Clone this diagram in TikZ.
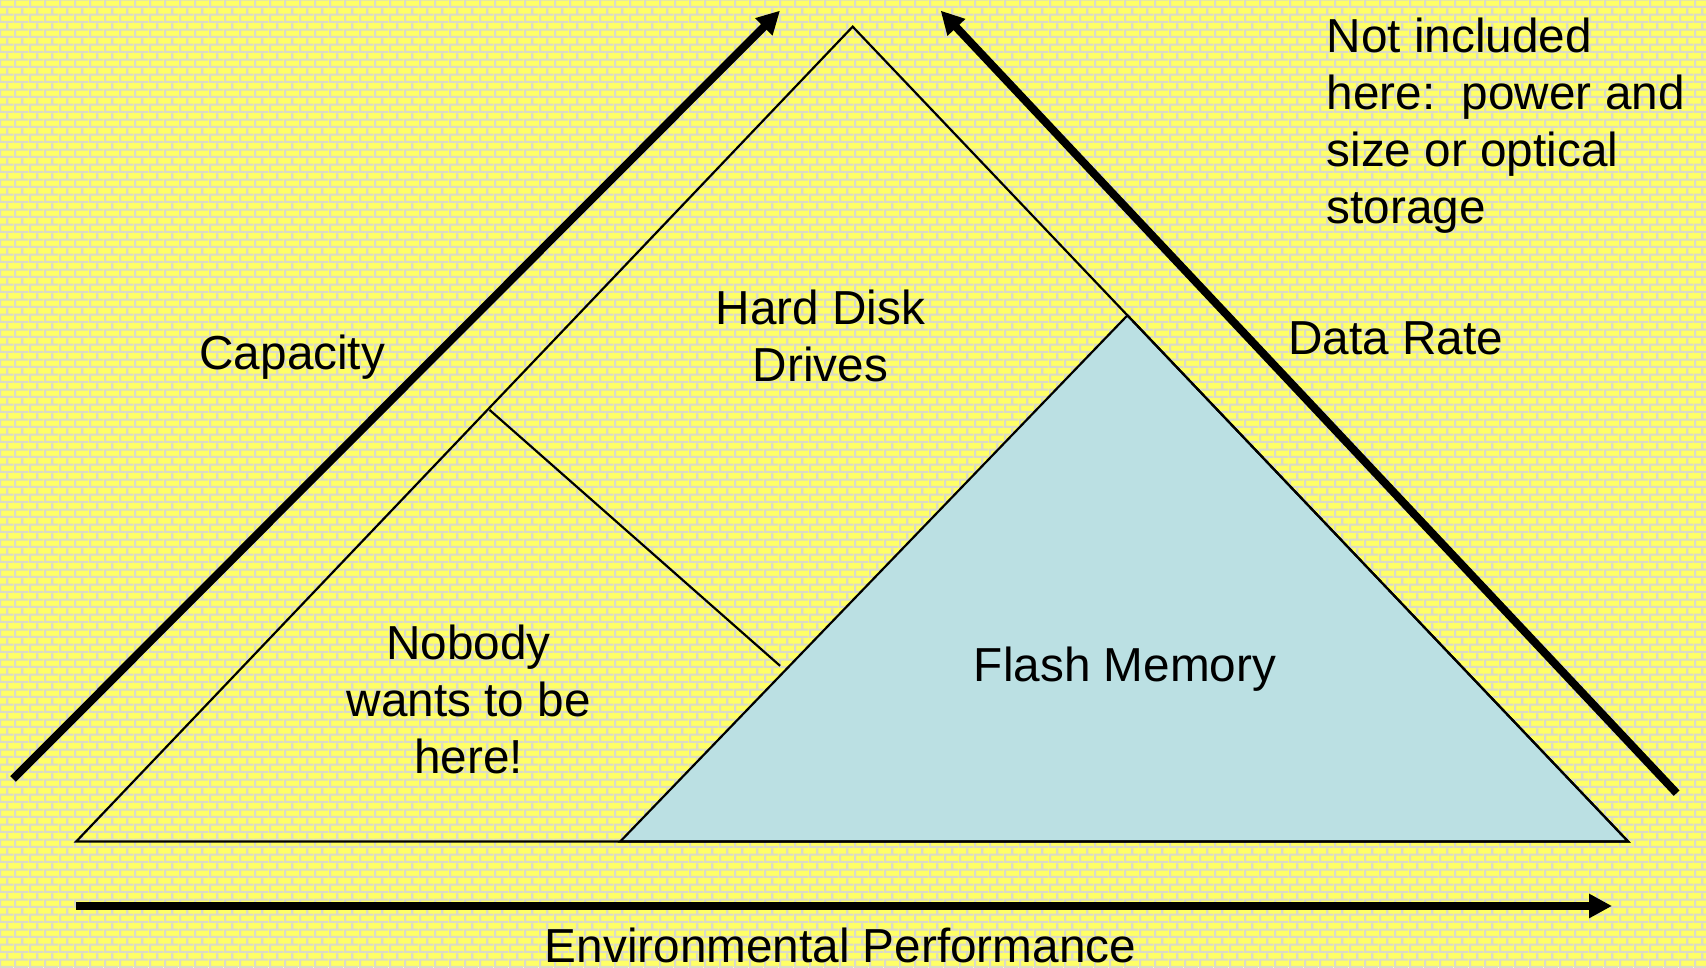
\documentclass[tikz,border=0pt]{standalone}
\usepackage{fontspec}
\setmainfont{Liberation Sans}
\usetikzlibrary{arrows.meta,patterns,calc}
\definecolor{brick}{RGB}{255,255,102}
\definecolor{mortar}{RGB}{218,218,200}
\definecolor{flash}{RGB}{187,224,227}
\pgfdeclarepatternformonly{brickwall}{\pgfpointorigin}{\pgfpoint{7.6pt}{7.67pt}}{\pgfpoint{7.6pt}{7.67pt}}{%
  \pgfpathrectangle{\pgfpoint{0pt}{0pt}}{\pgfpoint{7.6pt}{1.1pt}}%
  \pgfpathrectangle{\pgfpoint{0pt}{3.835pt}}{\pgfpoint{7.6pt}{1.1pt}}%
  \pgfpathrectangle{\pgfpoint{0pt}{1.1pt}}{\pgfpoint{1.1pt}{2.735pt}}%
  \pgfpathrectangle{\pgfpoint{3.8pt}{4.935pt}}{\pgfpoint{1.1pt}{2.735pt}}%
  \pgfusepath{fill}}
\begin{document}
\begin{tikzpicture}[x=0.544pt,y=-0.544pt,
  txt/.style={inner sep=0pt, font=\fontsize{23.85}{28.5}\selectfont, text=black},
  edgeline/.style={line width=1.1pt, draw=black, line join=miter},
  bigarrow/.style={line width=4pt, draw=black, -{Triangle[length=11.5pt,width=11.5pt]}}]
  % background
  \useasboundingbox (0,0) rectangle (1568,889);
  \fill[brick] (0,0) rectangle (1568,889);
  \fill[pattern=brickwall, pattern color=mortar] (0,0) rectangle (1568,889);
  % points
  \coordinate (A) at (70,773.5);
  \coordinate (T) at (783.7,24.5);
  \coordinate (B) at (1496.5,773.5);
  \coordinate (F1) at (570,773.5);
  \coordinate (F2) at ($(T)!0.3543!(B)$);
  \coordinate (D1) at (450,376.8);
  \coordinate (D2) at (717,612);
  \coordinate (C1) at (12,716);
  \coordinate (C2) at (716.9,9.8);
  \coordinate (R1) at (1541,729);
  \coordinate (R2) at (864.6,9.8);
  \coordinate (E1) at (70,832.7);
  \coordinate (E2) at (1481.6,832.7);
  % flash region
  \filldraw[edgeline, fill=flash] (F1) -- (F2) -- (B) -- cycle;
  % big triangle
  \draw[edgeline] (A) -- (T) -- (B) -- cycle;
  \draw[edgeline] (D1) -- (D2);
  % arrows
  \draw[bigarrow] (C1) -- (C2);
  \draw[bigarrow] (R1) -- (R2);
  \draw[bigarrow] (E1) -- (E2);
  % texts
  \node[txt, anchor=north west, align=left] (note) at (1219,16.3) {Not included\\here:\ \ power and\\size or optical\\storage};
  \node[txt, anchor=base] (cap) at (268.7,340) {Capacity};
  \node[txt, anchor=north, align=center] (hdd) at (754,266) {Hard Disk\\Drives};
  \node[txt, anchor=base] (rate) at (1283,325.7) {Data Rate};
  \node[txt, anchor=north, align=center] (nobody) at (430.7,573.8) {Nobody\\wants to be\\here!};
  \node[txt, anchor=base] (flashlbl) at (1034,626.5) {Flash Memory};
  \node[txt, anchor=base] (env) at (772.5,884.3) {Environmental Performance};
\end{tikzpicture}
\end{document}
